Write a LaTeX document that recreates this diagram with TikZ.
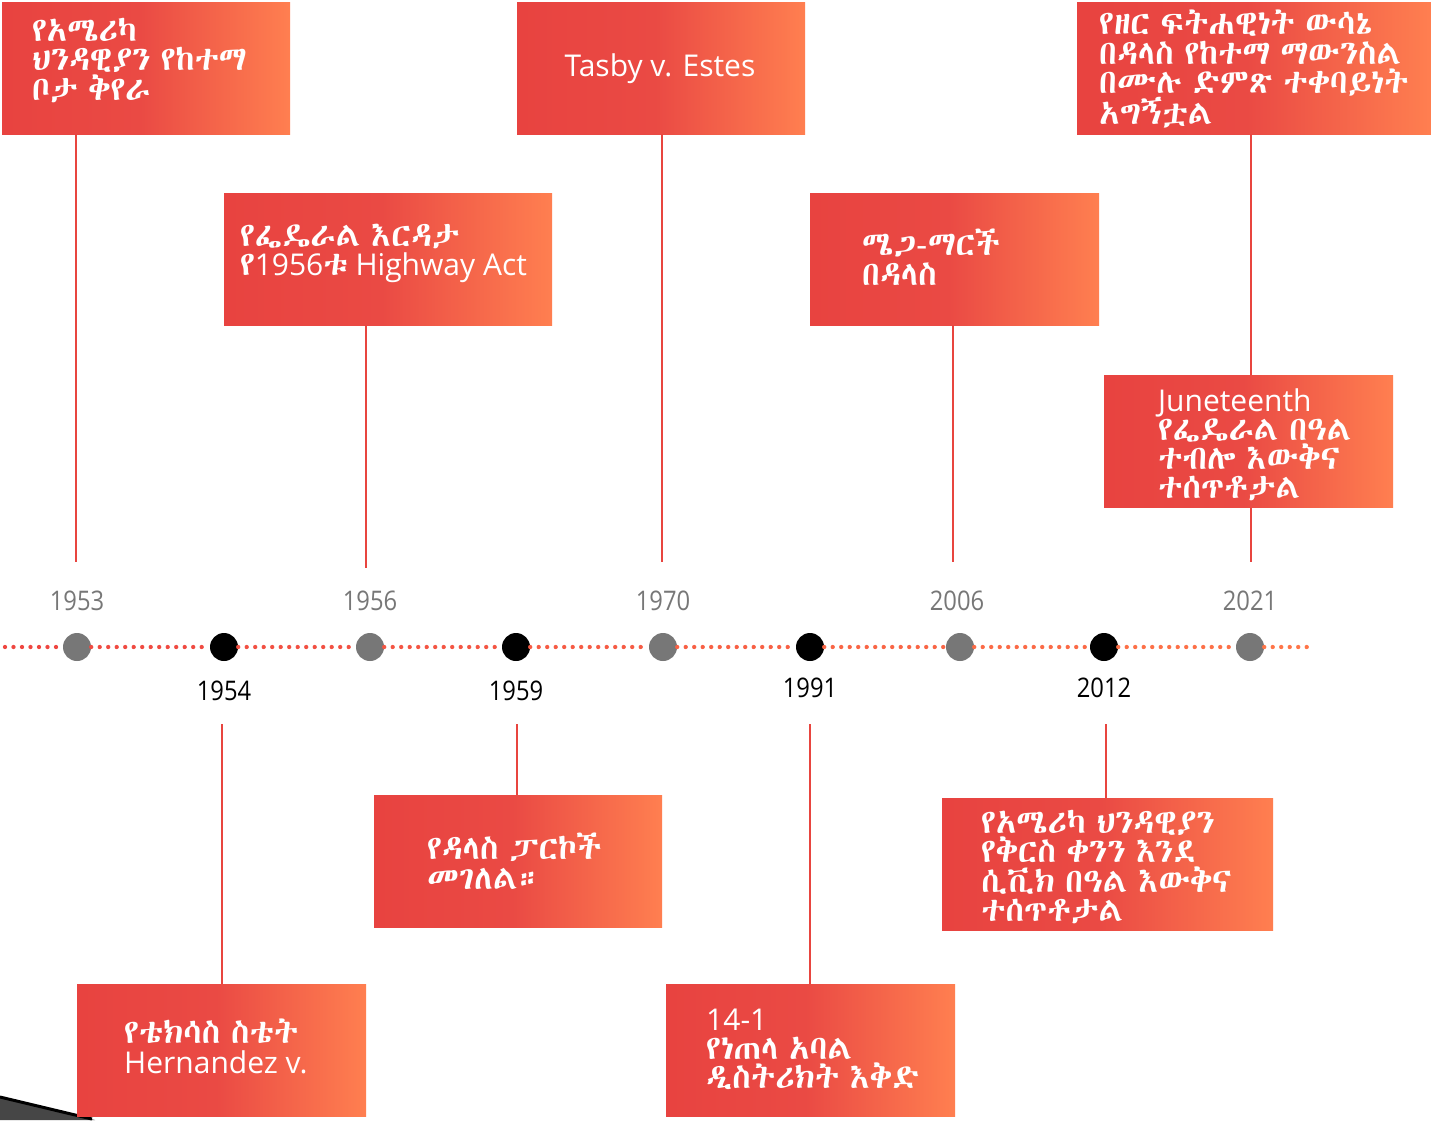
\documentclass[tikz,border=0pt]{standalone}
\usepackage{fontspec}
\setmainfont{Open Sans}
\IfFontExistsTF{Abyssinica SIL}{\newfontfamily\ethfont{Abyssinica SIL}[Scale=1.12,WordSpace=0.7]}{%
  \IfFontExistsTF{FreeSerif}{\newfontfamily\ethfont{FreeSerif}[Scale=1.12,WordSpace=0.7]}{%
    \IfFontExistsTF{FreeSans}{\newfontfamily\ethfont{FreeSans}[Scale=1.12,WordSpace=0.7]}{%
      \newfontfamily\ethfont{DejaVu Sans}}}}
\newfontfamily\yearfont{Open Sans}[FakeStretch=0.88]
\newcommand{\ethi}[1]{{\ethfont #1}}
\definecolor{boxL}{HTML}{E84340}
\definecolor{boxM}{HTML}{EA4A44}
\definecolor{boxR}{HTML}{FF7F50}
\definecolor{lineR}{HTML}{E8453F}
\definecolor{dotL}{HTML}{EE4540}
\definecolor{dotR}{HTML}{FF7548}
\definecolor{ygray}{HTML}{777777}
\pgfdeclarehorizontalshading{boxshade}{100bp}{color(0bp)=(boxL); color(25bp)=(boxL); color(49bp)=(boxM); color(75bp)=(boxR); color(100bp)=(boxR)}
\begin{document}
\begin{tikzpicture}[x=1pt,y=-1pt,
  evbox/.style={shade, shading=boxshade, draw=none, inner sep=0, anchor=north west, minimum width=#1, minimum height=132},
  evtext/.style={anchor=north west, inner sep=0, text=white, font=\fontsize{30}{29.3}\selectfont, align=left},
  conn/.style={draw=lineR, line width=2},
  gdot/.style={circle, fill=ygray, minimum size=28, inner sep=0},
  bdot/.style={circle, fill=black, minimum size=28, inner sep=0},
  year/.style={anchor=base, inner sep=0, font=\yearfont\fontsize{27}{27}\selectfont},
  dotseg/.style={line width=4.3, line cap=round, dash pattern=on 0pt off 8.5pt, draw=#1}]
\useasboundingbox (0,0) rectangle (1431,1120);
\fill[white] (0,0) rectangle (1431,1120);

% bottom-left wedge
\fill[gray!55!black] (0,1097) -- (95,1120) -- (0,1120) -- cycle;
\draw[black, line width=3] (0,1097) -- (92,1119);

% free ends of connectors
\coordinate (e1953) at (76,562);
\coordinate (e1956) at (366,568);
\coordinate (e1970) at (662,562);
\coordinate (e2006) at (953,562);
\coordinate (e2021) at (1251,562);
\coordinate (t1954) at (222,724);
\coordinate (t1959) at (517,724);
\coordinate (t1991) at (810,724);
\coordinate (t2012) at (1106,724);

% boxes
\node[evbox=288] (b1953) at (2,2) {};
\node[evbox=328] (b1956) at (224,193) {};
\node[evbox=288] (b1970) at (517,2) {};
\node[evbox=289] (b2006) at (810,193) {};
\node[evbox=354] (b2021) at (1077,2) {};
\node[evbox=289] (b1954) at (77,984) {};
\node[evbox=288] (b1959) at (374,795) {};
\node[evbox=289] (b1991) at (666,984) {};
\node[evbox=331] (b2012) at (942,798) {};

% connectors
\draw[conn] (e1953 |- b1953.south) -- (e1953);
\draw[conn] (e1956 |- b1956.south) -- (e1956);
\draw[conn] (e1970 |- b1970.south) -- (e1970);
\draw[conn] (e2006 |- b2006.south) -- (e2006);
\draw[conn] (e2021 |- b2021.south) -- (e2021);
\draw[conn] (t1954) -- (t1954 |- b1954.north);
\draw[conn] (t1959) -- (t1959 |- b1959.north);
\draw[conn] (t1991) -- (t1991 |- b1991.north);
\draw[conn] (t2012) -- (t2012 |- b2012.north);

\node[evbox=289] (b2021b) at (1104,375) {};

% box texts
\node[evtext] (x1953) at (32,18) {\rule{0pt}{22pt}\ethi{የአሜሪካ}\\\ethi{ህንዳዊያን የከተማ}\\\ethi{ቦታ ቅየራ}};
\node[evtext] (x1956) at (240,224) {\rule{0pt}{22pt}\ethi{የፌዴራል እርዳታ}\\\ethi{የ}1956\ethi{ቱ} Highway Act};
\node[anchor=base, inner sep=0, text=white, font=\fontsize{30}{29}\selectfont] (x1970) at (660,76) {Tasby v. Estes};
\node[evtext] (x2006) at (862,229) {\rule{0pt}{22pt}\ethi{ሜጋ-ማርች}\\\ethi{በዳላስ}};
\node[evtext] (x2021) at (1099,10) {\rule{0pt}{22pt}\ethi{የዘር ፍትሐዊነት ውሳኔ}\\\ethi{በዳላስ የከተማ ማውንስል}\\\ethi{በሙሉ ድምጽ ተቀባይነት}\\\ethi{አግኝቷል}};
\node[evtext] (x2021b) at (1158,388) {\rule{0pt}{22pt}Juneteenth\\\ethi{የፌዴራል በዓል}\\\ethi{ተብሎ እውቅና}\\\ethi{ተሰጥቶታል}};
\node[evtext] (x1954) at (124,1019) {\rule{0pt}{22pt}\ethi{የቴክሳስ ስቴት}\\Hernandez v.};
\node[evtext] (x1959) at (427,833) {\rule{0pt}{22pt}\ethi{የዳላስ ፓርኮች}\\\ethi{መገለል።}};
\node[evtext] (x1991) at (706,1008) {\rule{0pt}{22pt}14-1\\\ethi{የነጠላ አባል}\\\ethi{ዲስትሪክት እቅድ}};
\node[evtext] (x2012) at (981,810) {\rule{0pt}{22pt}\ethi{የአሜሪካ ህንዳዊያን}\\\ethi{የቅርስ ቀንን እንደ}\\\ethi{ሲቪክ በዓል እውቅና}\\\ethi{ተሰጥቶታል}};

% timeline
\coordinate (tlS) at (5,647);
\coordinate (tlE) at (1310,647);
\node[gdot] (d1953) at (77,647) {};
\node[bdot] (d1954) at (224,647) {};
\node[gdot] (d1956) at (370,647) {};
\node[bdot] (d1959) at (516,647) {};
\node[gdot] (d1970) at (663,647) {};
\node[bdot] (d1991) at (810,647) {};
\node[gdot] (d2006) at (960,647) {};
\node[bdot] (d2012) at (1104,647) {};
\node[gdot] (d2021) at (1250,647) {};

\draw[dotseg=dotR!3!dotL] (tlS) -- (d1953);
\draw[dotseg=dotR!11!dotL] (d1953) -- (d1954);
\draw[dotseg=dotR!22!dotL] (d1954) -- (d1956);
\draw[dotseg=dotR!34!dotL] (d1956) -- (d1959);
\draw[dotseg=dotR!45!dotL] (d1959) -- (d1970);
\draw[dotseg=dotR!56!dotL] (d1970) -- (d1991);
\draw[dotseg=dotR!67!dotL] (d1991) -- (d2006);
\draw[dotseg=dotR!78!dotL] (d2006) -- (d2012);
\draw[dotseg=dotR!90!dotL] (d2012) -- (d2021);
\draw[dotseg=dotR] (d2021) -- (tlE);

% years
\node[year, text=ygray] (y1953) at (77,610) {1953};
\node[year, text=ygray] (y1956) at (370,610) {1956};
\node[year, text=ygray] (y1970) at (663,610) {1970};
\node[year, text=ygray] (y2006) at (957,610) {2006};
\node[year, text=ygray] (y2021) at (1250,610) {2021};
\node[year, text=black] (y1954) at (224,700) {1954};
\node[year, text=black] (y1959) at (516,700) {1959};
\node[year, text=black] (y1991) at (810,697) {1991};
\node[year, text=black] (y2012) at (1104,697) {2012};
\end{tikzpicture}
\end{document}
